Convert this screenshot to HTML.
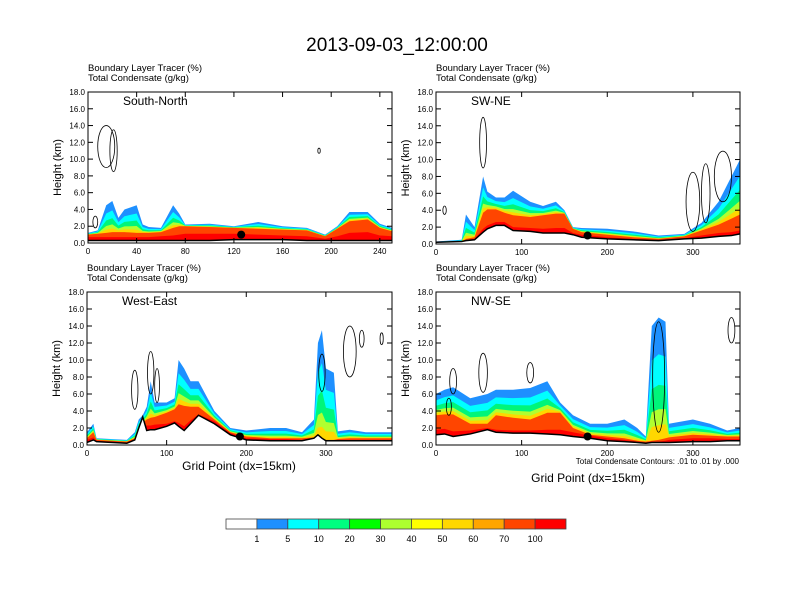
<!DOCTYPE html>
<html><head><meta charset="utf-8"><style>
body{margin:0;background:#fff;}
svg{display:block;font-family:"Liberation Sans",sans-serif;}
</style></head><body>
<svg id="c" width="792" height="612" viewBox="0 0 792 612">
<text x="397" y="51" font-size="19" text-anchor="middle">2013-09-03_12:00:00</text>
</svg>
<script>
const NS="http://www.w3.org/2000/svg";
const svg=document.getElementById('c');
const levelColors=["#1e90ff","#00ffff","#00f57a","#b0ff30","#ffd700","#ff4500","#ff0000"];
const legendLabels=["1","5","10","20","30","40","50","60","70","100"];
const legendColors=["#ffffff","#1e90ff","#00ffff","#00ff80","#00ff00","#adff2f","#ffff00","#ffd700","#ffa500","#ff4500","#ff0000"];

// Panel 1 South-North
const p1X=[0,8,15,20,25,30,40,45,50,60,70,75,80,100,120,140,160,180,195,205,215,230,240,250];
const p1Terrain=[0.3,0.3,0.3,0.3,0.3,0.3,0.3,0.3,0.3,0.3,0.3,0.3,0.3,0.3,0.4,0.4,0.4,0.3,0.3,0.3,0.3,0.3,0.3,0.3];
const p1Blue=[1.2,1.5,4.5,5,3,4,4.5,2.2,1.9,1.8,4.5,3.5,2.2,2.3,2,2.5,2,1.8,1,2,3.7,3.7,2.3,1.8];
const p1Orange=[1.0,1.1,1.2,1.3,1.3,1.3,1.2,1.2,1.2,1.3,1.8,2.0,2.0,1.9,1.8,1.7,1.6,1.5,0.8,1.7,2.6,2.8,1.8,1.4];
const p1Red=[0.7,0.7,0.7,0.7,0.7,0.7,0.7,0.7,0.7,0.8,0.9,1,1.1,1.1,1.1,1,0.9,0.8,0.5,0.8,1.2,1.3,0.9,0.8];
// Panel 2 SW-NE
const p2X=[0,30,35,45,55,60,70,80,90,110,125,140,150,160,170,200,230,260,290,310,330,345,355];
const p2Terrain=[0.2,0.3,0.4,0.5,1.4,1.8,2.2,2.2,1.6,1.5,1.3,1.3,1.3,1.1,0.8,0.6,0.5,0.4,0.6,0.7,0.9,1,1.2];
const p2Blue=[0.3,0.5,3.5,2,8,6.2,5.5,5.5,6.3,5,4.5,5,4,2,1.9,1.8,1.5,1,1.2,2.5,5,8,10];
const p2Orange=[0.2,0.3,0.6,0.8,3.7,4.1,4.1,3.7,3.4,3.2,3.4,3.6,3.6,1.8,1.4,1.1,0.8,0.6,0.9,1.6,2.3,3,3.5];
const p2Red=[0.2,0.3,0.5,0.6,1.8,2.2,2.6,2.6,2,1.9,1.8,1.9,1.9,1.3,1.1,0.8,0.6,0.5,0.7,1,1.3,1.4,1.6];
// Panel 3 West-East
const p3X=[0,8,12,50,60,65,70,75,80,85,100,110,115,122,130,140,160,180,200,230,250,270,285,290,295,300,310,315,330,350,383];
const p3Terrain=[0.3,0.6,0.4,0.2,0.6,2,3.3,1.7,1.8,1.8,2.2,2.6,2.2,1.7,2.5,3.5,2.5,1.2,0.6,0.5,0.5,0.5,0.8,1.2,0.8,0.5,0.5,0.5,0.5,0.5,0.5];
const p3Blue=[1.5,2.5,0.8,0.6,1.5,3,3.5,4.5,7.5,5,5,5.5,10,9,7.5,7.5,4,2,1.7,2,2,1.5,3,12,13.5,9,8.5,1.6,1.8,1.5,1.5];
const p3Orange=[0.8,1.5,0.6,0.4,0.8,2,2.6,3,3.2,3.3,3.8,4.2,4.8,4.6,4.5,4.5,3,1.5,1,0.8,0.8,0.8,0.9,0.7,0.6,0.6,0.6,0.7,0.8,0.8,0.8];
const p3Red=[0.6,0.9,0.5,0.3,0.7,1.8,2.5,2.3,2.3,2.4,2.5,2.8,2.6,2.2,2.9,3.6,2.8,1.4,0.8,0.7,0.7,0.6,0.8,0.9,0.7,0.5,0.5,0.6,0.6,0.6,0.6];
// Panel 4 NW-SE
const p4X=[0,10,20,40,60,70,90,110,130,145,160,180,200,220,235,245,252,260,268,272,300,320,340,355];
const p4Terrain=[1.2,1.3,1,1.3,1.8,1.5,1.4,1.4,1.3,1.2,1,0.8,0.5,0.4,0.3,0.2,0.3,0.3,0.3,0.3,0.4,0.4,0.5,0.5];
const p4Blue=[6,6.5,6.8,5.5,6,6.5,6.5,6.7,7.5,5,3.5,2.5,2.5,3,2,1,14,15,14.5,2.5,3,2.5,1.7,2];
const p4Orange=[3.5,3.6,3.6,2.5,2.5,3.5,3.2,3,3.8,3.8,2,1.2,1,0.8,0.5,0.4,0.5,0.6,0.8,0.9,1.2,1.1,1,1];
const p4Red=[1.8,1.9,1.6,1.7,2,1.8,1.7,1.7,1.8,1.8,1.5,1.1,0.8,0.6,0.4,0.3,0.4,0.4,0.5,0.6,0.8,0.8,0.7,0.7];
// condensate contours [x, y(km), rx(grid), ry(km)]
const p1Cloud=[[15,11.5,7,2.5],[21,11,3,2.5],[190,11,1,0.3],[6,2.5,2,0.7]];
const p2Cloud=[[55,12,4,3],[10,4,2,0.5],[300,5,8,3.5],[315,6,5,3.5],[335,8,10,3]];
const p3Cloud=[[60,6.5,4,2.3],[80,8.5,4,2.5],[88,7,3,2],[295,8.5,4,2.2],[330,11,8,3],[345,12.5,3,1],[370,12.5,2,0.7]];
const p4Cloud=[[20,7.5,4,1.5],[55,8.5,5,2.3],[110,8.5,4,1.2],[260,8,7,6.5],[15,4.5,3,1],[345,13.5,4,1.5]];
const dots=[[126,1],[177,1],[192,1],[177,1]];

const panels=[
 {name:"south-north",label:"South-North",L:88,R:392,T:92,B:243,xmax:250,ticks:[0,40,80,120,160,200,240],X:p1X,ter:p1Terrain,blue:p1Blue,org:p1Orange,red:p1Red,cl:p1Cloud},
 {name:"sw-ne",label:"SW-NE",L:436,R:740,T:92,B:244,xmax:355,ticks:[0,100,200,300],X:p2X,ter:p2Terrain,blue:p2Blue,org:p2Orange,red:p2Red,cl:p2Cloud},
 {name:"west-east",label:"West-East",L:87,R:392,T:292,B:445,xmax:383,ticks:[0,100,200,300],X:p3X,ter:p3Terrain,blue:p3Blue,org:p3Orange,red:p3Red,cl:p3Cloud},
 {name:"nw-se",label:"NW-SE",L:436,R:740,T:292,B:445,xmax:355,ticks:[0,100,200,300],X:p4X,ter:p4Terrain,blue:p4Blue,org:p4Orange,red:p4Red,cl:p4Cloud}
];
function mk(tag,attrs,parent){const e=document.createElementNS(NS,tag);for(const k in attrs)e.setAttribute(k,attrs[k]);(parent||svg).appendChild(e);return e;}
panels.forEach((p,pi)=>{
 const g=mk('g',{});
 
 
 const sx=v=>p.L+(p.R-p.L)*v/p.xmax, sy=v=>p.B-(p.B-p.T)*v/18;
 const band=(top)=>{let pts=p.X.map((x,i)=>sx(x)+','+sy(top[i]));
   for(let i=p.X.length-1;i>=0;i--)pts.push(sx(p.X[i])+','+sy(p.ter[i]));return pts.join(' ');};
 const fr=[0,0.3,0.55,0.75,0.88];
 fr.forEach((f,li)=>{
   const top=p.blue.map((b,i)=>b-(b-p.org[i])*f);
   const e=mk('polygon',{points:band(top),fill:levelColors[li]},g);
   
   
 });
 let e=mk('polygon',{points:band(p.org),fill:levelColors[5]},g);
 
 
 e=mk('polygon',{points:band(p.red),fill:levelColors[6]},g);
 
 
 let tp=p.X.map((x,i)=>sx(x)+','+sy(p.ter[i]));
 e=mk('polygon',{points:tp.join(' ')+' '+sx(p.X[p.X.length-1])+','+p.B+' '+sx(0)+','+p.B,fill:'#fff'},g);
 
 
 e=mk('polyline',{points:tp.join(' '),fill:'none',stroke:'#000','stroke-width':1.5},g);
 
 
 p.cl.forEach(c=>{
   const el=mk('ellipse',{cx:sx(c[0]),cy:sy(c[1]),rx:(p.R-p.L)*c[2]/p.xmax,ry:(p.B-p.T)*c[3]/18,fill:'none',stroke:'#000','stroke-width':0.8},g);
   
   
 });
 const d=mk('circle',{cx:sx(dots[pi][0]),cy:sy(dots[pi][1]),r:4,fill:'#000'},g);
 
 
 const fr2=mk('rect',{x:p.L,y:p.T,width:p.R-p.L,height:p.B-p.T,fill:'none',stroke:'#000','stroke-width':1},g);
 
 
 for(let v=0;v<=18;v+=2){
   const y=sy(v);
   mk('line',{x1:p.L,x2:p.L+5,y1:y,y2:y,stroke:'#000'},g);
   mk('line',{x1:p.R,x2:p.R-5,y1:y,y2:y,stroke:'#000'},g);
   const t=mk('text',{x:p.L-3,y:y+3,'font-size':8,'text-anchor':'end'},g);t.textContent=v.toFixed(1);
   
   
 }
 p.ticks.forEach(v=>{
   const x=sx(v);
   mk('line',{x1:x,x2:x,y1:p.B,y2:p.B-5,stroke:'#000'},g);
   mk('line',{x1:x,x2:x,y1:p.T,y2:p.T+5,stroke:'#000'},g);
   const t=mk('text',{x:x,y:p.B+11,'font-size':8,'text-anchor':'middle'},g);t.textContent=v;
   
   
 });
 let t=mk('text',{x:p.L+35,y:p.T+13,'font-size':12},g);t.textContent=p.label;
 
 
 t=mk('text',{x:p.L,y:p.T-21,'font-size':9.5},g);t.textContent="Boundary Layer Tracer   (%)";
 
 
 t=mk('text',{x:p.L,y:p.T-11,'font-size':9.5},g);t.textContent="Total Condensate   (g/kg)";
 
 
 t=mk('text',{x:p.L-27,y:(p.T+p.B)/2,'font-size':11,'text-anchor':'middle',transform:`rotate(-90 ${p.L-27} ${(p.T+p.B)/2})`},g);t.textContent="Height (km)";
 
 
});
let t=mk('text',{x:239,y:470,'font-size':12,'text-anchor':'middle'});t.textContent="Grid Point (dx=15km)";


t=mk('text',{x:588,y:482,'font-size':12,'text-anchor':'middle'});t.textContent="Grid Point (dx=15km)";


t=mk('text',{x:739,y:464,'font-size':8,'text-anchor':'end'});t.textContent="Total Condensate Contours: .01 to .01 by .000";


const lg=mk('g',{});


const bw=(566-226)/legendColors.length;
legendColors.forEach((c,i)=>{
 const r=mk('rect',{x:226+i*bw,y:519,width:bw,height:10,fill:c,stroke:'#444','stroke-width':0.8},lg);
 
 
});
legendLabels.forEach((l,i)=>{
 const tt=mk('text',{x:226+(i+1)*bw,y:542,'font-size':9,'text-anchor':'middle'},lg);tt.textContent=l;
 
 
});
</script>
</body></html>
